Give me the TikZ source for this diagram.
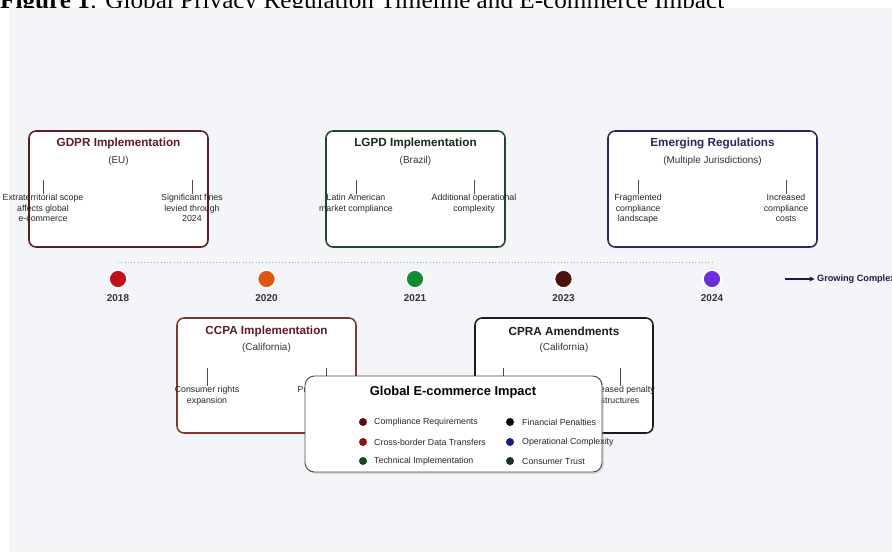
\documentclass[tikz,border=0pt]{standalone}
\usepackage{fontspec}
\setmainfont{Liberation Serif}
\setsansfont{Liberation Sans}
\usetikzlibrary{arrows.meta,shadows}

\definecolor{panelbg}{HTML}{F3F5F9}
\definecolor{gdprc}{HTML}{5E1C24}
\definecolor{lgpdc}{HTML}{1E4A2C}
\definecolor{emergc}{HTML}{2B2562}
\definecolor{ccpac}{HTML}{7A3A30}
\definecolor{cprac}{HTML}{1C1C1C}
\definecolor{navyc}{HTML}{1E1A48}
\definecolor{dotA}{HTML}{C21018}
\definecolor{dotB}{HTML}{E0580E}
\definecolor{dotC}{HTML}{138A34}
\definecolor{dotD}{HTML}{4A1208}
\definecolor{dotE}{HTML}{6A30D8}
\definecolor{legA}{HTML}{5C0E12}
\definecolor{legB}{HTML}{8E1414}
\definecolor{legC}{HTML}{0E4A1E}
\definecolor{legD}{HTML}{0A0A0A}
\definecolor{legE}{HTML}{1C1C7C}
\definecolor{legF}{HTML}{0C3A1C}

\begin{document}
\begin{tikzpicture}[x=0.03cm,y=-0.03cm,
  regbox/.style={rounded corners=6pt,line width=1.3pt,fill=white,
    drop shadow={opacity=0.18,shadow xshift=0.8pt,shadow yshift=-1pt}},
  boxtitle/.style={font=\sffamily\bfseries\fontsize{10}{12}\selectfont,inner sep=0pt},
  boxsub/.style={font=\sffamily\fontsize{8.5}{10}\selectfont,text=black!80,inner sep=0pt},
  note/.style={font=\sffamily\fontsize{7.5}{9}\selectfont,align=center,anchor=north,inner sep=0pt,text=black!85},
  tickline/.style={draw=black!70,line width=0.6pt},
  tdot/.style={circle,minimum size=0.54cm,inner sep=0pt,draw=white,line width=1.4pt},
  yearlbl/.style={font=\sffamily\bfseries\fontsize{8.5}{10}\selectfont,text=black!80,inner sep=0pt},
  legdot/.style={circle,minimum size=0.24cm,inner sep=0pt},
  legtxt/.style={font=\sffamily\fontsize{7.5}{9}\selectfont,anchor=west,inner sep=0pt,text=black!85}]
\useasboundingbox (0,0) rectangle (892,552);

% 标题与背景
\node[anchor=base west,inner sep=0pt,font=\fontsize{21.5}{22}\selectfont] (cap) at (0,8.5)
  {\textbf{Figure 1}: Global Privacy Regulation Timeline and E-commerce Impact};
\fill[panelbg] (9,8) rectangle (892,552);

% 上方:GDPR
\begin{scope}
\draw[regbox,draw=gdprc] (29,131) rectangle (208,247);
\node[boxtitle,text=gdprc] (gdprT) at (118.5,143) {GDPR Implementation};
\node[boxsub] (gdprS) at (118.5,161) {(EU)};
\coordinate (gdprK1) at (43,180);
\coordinate (gdprK2) at (192,180);
\node[note] (gdprN1) at (43,194) {Extraterritorial scope\\affects global\\e-commerce};
\node[note] (gdprN2) at (192,194) {Significant fines\\levied through\\2024};
\draw[tickline] (gdprK1) -- (gdprN1.north);
\draw[tickline] (gdprK2) -- (gdprN2.north);
\end{scope}

% 上方:LGPD
\begin{scope}
\draw[regbox,draw=lgpdc] (326,131) rectangle (505,247);
\node[boxtitle,text=lgpdc!60!black] (lgpdT) at (415.5,143) {LGPD Implementation};
\node[boxsub] (lgpdS) at (415.5,161) {(Brazil)};
\coordinate (lgpdK1) at (356,180);
\coordinate (lgpdK2) at (474,180);
\node[note] (lgpdN1) at (356,194) {Latin American\\market compliance};
\node[note] (lgpdN2) at (474,194) {Additional operational\\complexity};
\draw[tickline] (lgpdK1) -- (lgpdN1.north);
\draw[tickline] (lgpdK2) -- (lgpdN2.north);
\end{scope}

% 上方:新兴法规
\begin{scope}
\draw[regbox,draw=emergc] (608,131) rectangle (817,247);
\node[boxtitle,text=emergc] (emergT) at (712.5,143) {Emerging Regulations};
\node[boxsub] (emergS) at (712.5,161) {(Multiple Jurisdictions)};
\coordinate (emergK1) at (638,180);
\coordinate (emergK2) at (786,180);
\node[note] (emergN1) at (638,194) {Fragmented\\compliance\\landscape};
\node[note] (emergN2) at (786,194) {Increased\\compliance\\costs};
\draw[tickline] (emergK1) -- (emergN1.north);
\draw[tickline] (emergK2) -- (emergN2.north);
\end{scope}

% 时间轴
\coordinate (tlA) at (118,262);
\coordinate (tlB) at (712,262);
\draw[black!35,line width=0.8pt,dotted] (tlA) -- (tlB);
\foreach \yr/\xx/\col in {2018/118/dotA,2020/266.5/dotB,2021/415/dotC,2023/563.5/dotD,2024/712/dotE}{
  \node[tdot,fill=\col] (d\yr) at (\xx,279) {};
  \node[yearlbl] (y\yr) at (\xx,298) {\yr};
}
\node[anchor=west,inner sep=0pt,font=\sffamily\bfseries\fontsize{7.8}{9}\selectfont,text=navyc] (grow) at (817,279) {Growing Complexity};
\coordinate (growS) at (785,279);
\draw[navyc,line width=1.1pt,-{Stealth[length=4.5pt,width=4.5pt]}] (growS) -- ([xshift=-2pt]grow.west);

% 下方:CCPA
\begin{scope}
\draw[regbox,draw=ccpac] (177,318) rectangle (356,433);
\node[boxtitle,text=gdprc] (ccpaT) at (266.5,331) {CCPA Implementation};
\node[boxsub] (ccpaS) at (266.5,348) {(California)};
\coordinate (ccpaK1) at (207,368);
\coordinate (ccpaK2) at (326,368);
\node[note] (ccpaN1) at (207,386) {Consumer rights\\expansion};
\node[note] (ccpaN2) at (326,386) {Private right of\\action};
\draw[tickline] (ccpaK1) -- (ccpaN1.north);
\draw[tickline] (ccpaK2) -- (ccpaN2.north);
\end{scope}

% 下方:CPRA
\begin{scope}
\draw[regbox,draw=cprac] (475,318) rectangle (653,433);
\node[boxtitle,text=cprac] (cpraT) at (564,331) {CPRA Amendments};
\node[boxsub] (cpraS) at (564,348) {(California)};
\coordinate (cpraK1) at (503,368);
\coordinate (cpraK1b) at (503,383);
\coordinate (cpraK2) at (620,368);
\node[note] (cpraN2) at (620,386) {Increased penalty\\structures};
\draw[tickline] (cpraK1) -- (cpraK1b);
\draw[tickline] (cpraK2) -- (cpraN2.north);
\end{scope}

% 影响图例
\begin{scope}
\draw[rounded corners=8pt,draw=black!70,line width=0.8pt,fill=white,
  drop shadow={opacity=0.25,shadow xshift=1.5pt,shadow yshift=-1.5pt}] (305,376) rectangle (602,472);
\node[font=\sffamily\bfseries\fontsize{11}{13}\selectfont,inner sep=0pt] (impT) at (453,392) {Global E-commerce Impact};
\foreach \i/\yy/\col/\txt in {1/422/legA/Compliance Requirements,2/442/legB/Cross-border Data Transfers,3/461/legC/Technical Implementation}{
  \node[legdot,fill=\col] (la\i) at (363,\yy) {};
  \node[legtxt] (lt\i) at (374,\yy) {\txt};
}
\foreach \i/\yy/\col/\txt in {1/422/legD/Financial Penalties,2/442/legE/Operational Complexity,3/461/legF/Consumer Trust}{
  \node[legdot,fill=\col] (ra\i) at (510,\yy) {};
  \node[legtxt] (rt\i) at (522,\yy) {\txt};
}
\end{scope}
\end{tikzpicture}
\end{document}
